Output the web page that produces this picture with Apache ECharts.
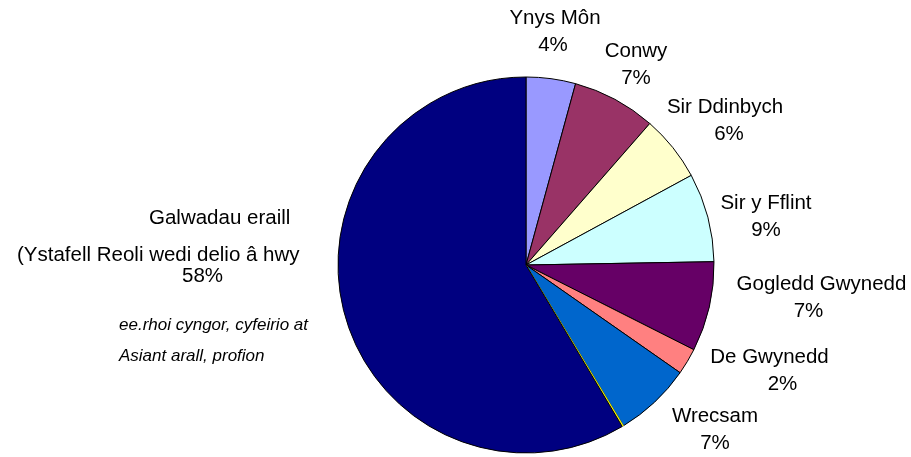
<!DOCTYPE html>
<html>
<head>
<meta charset="utf-8">
<script src="https://cdn.jsdelivr.net/npm/echarts@6/dist/echarts.min.js"></script>
<style>
html,body{margin:0;padding:0;background:#fff;}
#c{width:911px;height:457px;}
</style>
</head>
<body>
<div id="c"></div>
<script>
// ---- data ----
const regions = ['Ynys Môn', 'Conwy', 'Sir Ddinbych', 'Sir y Fflint', 'Gogledd Gwynedd', 'De Gwynedd', 'Wrecsam', '', 'Galwadau eraill'];
const shares = [4.25, 7.19, 5.65, 7.63, 7.72, 2.27, 6.62, 0.12, 58.55];
const percentLabels = ['4%', '7%', '6%', '9%', '7%', '2%', '7%', '', '58%'];
const otherSubtitle = '(Ystafell Reoli wedi delio â hwy';
const otherNote = ['ee.rhoi cyngor, cyfeirio at', 'Asiant arall, profion'];

// ---- styles / layout ----
const colors = ['#9999FF', '#993366', '#FFFFCC', '#CCFFFF', '#660066', '#FF8080', '#0066CC', '#FFFF00', '#000080'];
const FONT = 'Liberation Sans, Arial, sans-serif';
const FS = 20.5;
const labelCenters = [[554, 31.5], [636, 64.5], [727, 120.5], [766, 216.5], [815, 297.5], [776, 371], [715, 430], null, null];
const lineShifts = [[1, -1], [0, 0], [-2, 2], [0, 0], [6.5, -6.5], [-6.5, 6.5], [0, 0], [0, 0], [0, 0]];

function pad(s) { return s >= 0 ? [0, 0, 0, 2 * s] : [0, -2 * s, 0, 0]; }

const rich = {
  g: {fontSize: FS, fontFamily: FONT, color: '#000', lineHeight: 52, padding: [0, 0, 0, 132], align: 'left'},
  s: {fontSize: FS, fontFamily: FONT, color: '#000', lineHeight: 22, align: 'left'},
  p: {fontSize: FS, fontFamily: FONT, color: '#000', lineHeight: 20, padding: [0, 0, 0, 165], align: 'left'}
};
lineShifts.forEach((sh, i) => {
  rich['n' + i] = {fontSize: FS, fontFamily: FONT, color: '#000', lineHeight: 27, align: 'center', padding: pad(sh[0])};
  rich['q' + i] = {fontSize: FS, fontFamily: FONT, color: '#000', lineHeight: 27, align: 'center', padding: pad(sh[1])};
});

const chart = echarts.init(document.getElementById('c'), null, {renderer: 'canvas'});
const option = {
  animation: false,
  backgroundColor: '#ffffff',
  textStyle: {fontFamily: FONT},
  graphic: [{
    type: 'text',
    left: 119,
    top: 310,
    style: {
      text: otherNote.join('\n'),
      font: 'italic 17px ' + FONT,
      fill: '#000',
      lineHeight: 31
    }
  }],
  series: [{
    type: 'pie',
    center: [526, 265],
    radius: 188,
    startAngle: 90,
    clockwise: true,
    avoidLabelOverlap: false,
    data: regions.map((n, i) => ({
      name: n,
      value: shares[i],
      itemStyle: n === '' ? {color: colors[i], borderColor: colors[i], borderWidth: 0.6} : {color: colors[i]},
      label: {show: n !== ''}
    })),
    itemStyle: {borderColor: '#000', borderWidth: 1},
    emphasis: {disabled: true},
    labelLine: {show: false},
    label: {
      position: 'outside',
      color: '#000',
      fontFamily: FONT,
      fontSize: FS,
      lineHeight: 27,
      formatter: function (p) {
        const i = p.dataIndex;
        if (i === regions.length - 1) {
          return '{g|' + p.name + '}\n{s|' + otherSubtitle + '}\n{p|' + percentLabels[i] + '}';
        }
        return '{n' + i + '|' + p.name + '}\n{q' + i + '|' + percentLabels[i] + '}';
      },
      rich: rich
    },
    labelLayout: function (params) {
      const i = params.dataIndex;
      if (i === regions.length - 1) {
        return {x: 17, y: 192, align: 'left', verticalAlign: 'top'};
      }
      const c = labelCenters[i];
      if (!c) return {};
      return {x: c[0], y: c[1], align: 'center', verticalAlign: 'middle'};
    }
  }]
};
chart.setOption(option);
</script>
</body>
</html>
